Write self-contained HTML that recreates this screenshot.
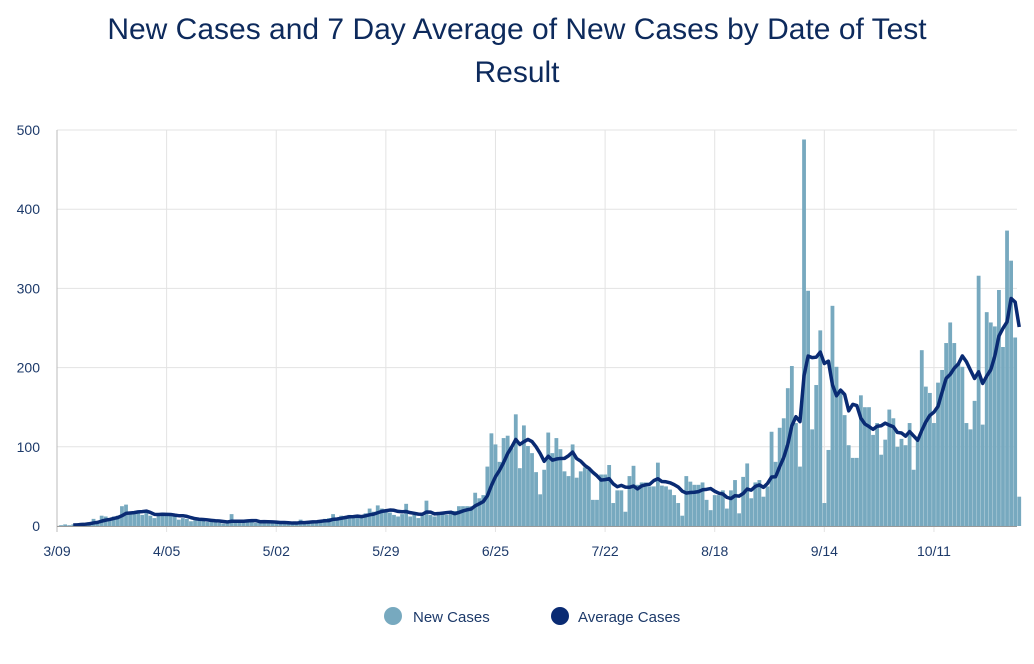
<!DOCTYPE html>
<html><head><meta charset="utf-8"><style>
body{margin:0;background:#fff;font-family:"Liberation Sans",sans-serif;}
svg text{font-family:"Liberation Sans",sans-serif;}
</style></head><body>
<svg id="c" width="1034" height="659">
<text x="517" y="39" text-anchor="middle" font-size="30" fill="#0d2a5c">New Cases and 7 Day Average of New Cases by Date of Test</text>
<text x="517" y="82" text-anchor="middle" font-size="30" fill="#0d2a5c">Result</text>
<g id="grid"></g><g id="bars"></g><g id="line"></g><g id="axes"></g>
<g>
<circle cx="393" cy="616" r="9" fill="#77a9bf"/>
<text x="413" y="622" font-size="15" fill="#1d3a6a">New Cases</text>
<circle cx="560" cy="616" r="9" fill="#0a2b73"/>
<text x="578" y="622" font-size="15" fill="#1d3a6a">Average Cases</text>
</g>
</svg>
<script>
const tickLabels=["3/09","4/05","5/02","5/29","6/25","7/22","8/18","9/14","10/11"];
const tickDays=[0,27,54,81,108,135,162,189,216];
const yTicks=[0,100,200,300,400,500];
const newCases=[0,1,2,1,2,3,4,3,5,9,6,13,12,10,12,13,25,27,16,15,17,14,18,13,10,15,17,
16,13,12,8,10,9,6,7,8,9,5,6,5,4,3,4,15,5,6,5,7,6,4,5,6,5,4,
4,3,4,3,3,5,8,4,6,7,5,7,9,10,15,9,13,12,14,10,14,11,16,22,18,26,22,
20,17,14,12,15,28,12,14,10,13,32,14,12,15,18,14,17,19,
25,25,25,25,42,35,39,75,117,103,81,111,114,98,141,73,127,101,92,68,40,71,118,92,111,97,69,63,103,61,69,74,71,33,33,65,65,77,29,45,45,18,63,76,52,55,55,50,50,80,51,50,46,39,29,13,63,56,52,52,55,33,20,39,39,45,22,
45,58,16,62,79,35,55,58,37,50,119,81,124,136,174,202,130,75,488,297,122,178,247,29,96,278,201,172,140,102,86,86,165,150,150,115,130,90,109,147,136,100,110,102,130,71,109,222,176,168,130,181,197,231,257,231,205,201,130,122,158,316,128,270,257,252,298,226,373,335,238,37];
const X0=57,DX=4.06,Y0=526,YS=0.792;
const xs=d=>X0+d*DX, ys=v=>Y0-v*YS;
const NS="http://www.w3.org/2000/svg";
function mk(t,a,p){const e=document.createElementNS(NS,t);for(const k in a)e.setAttribute(k,a[k]);p.appendChild(e);return e;}
const grid=document.getElementById('grid'),axes=document.getElementById('axes');
yTicks.forEach(v=>{
 const l=mk('line',{x1:57,x2:1017,y1:ys(v),y2:ys(v),stroke:'#e3e3e3','stroke-width':1},grid);
 
 
 const t=mk('text',{x:40,y:ys(v)+5,'text-anchor':'end','font-size':14,fill:'#1d3a6a'},axes);
 t.textContent=v;
 
 
});
tickDays.forEach((d,i)=>{
 const l=mk('line',{x1:xs(d),x2:xs(d),y1:130,y2:532,stroke:i==0?'#bbb':'#e3e3e3','stroke-width':1},grid);
 
 
 const t=mk('text',{x:xs(d),y:556,'text-anchor':'middle','font-size':14,fill:'#1d3a6a'},axes);
 t.textContent=tickLabels[i];
 
 
});
const base=mk('line',{x1:57,x2:1017,y1:Y0+0.5,y2:Y0+0.5,stroke:'#999','stroke-width':1},axes);


const bars=document.getElementById('bars');
newCases.forEach((v,i)=>{
 const r=mk('rect',{x:xs(i)-1.9,y:ys(v),width:3.8,height:v*YS,fill:'#77a9bf'},bars);
 
 
});
const avg=newCases.map((v,i)=>{const s=newCases.slice(Math.max(0,i-6),i+1);return s.reduce((a,b)=>a+b,0)/s.length;});
const pts=avg.map((v,i)=>xs(i)+','+ys(v)).slice(4).join(' ');
const pl=mk('polyline',{points:pts,fill:'none',stroke:'#0a2b73','stroke-width':3.5,'stroke-linejoin':'round'},document.getElementById('line'));


</script>
</body></html>
